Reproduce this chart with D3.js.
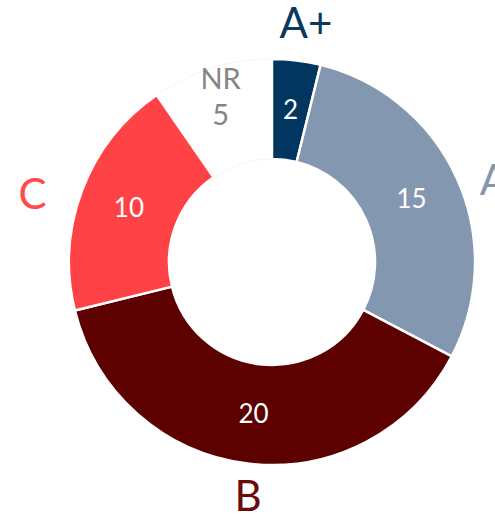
<!DOCTYPE html>
<html>
<head>
<meta charset="utf-8">
<script src="https://cdn.jsdelivr.net/npm/d3@7"></script>
<style>
  body { margin: 0; background: #fff; }
  svg { display: block; font-family: Lato, "Open Sans", sans-serif; }
</style>
</head>
<body>
<svg id="chart" width="495" height="514"></svg>
<script>
// chart data
var grades = ["A+", "A", "B", "C", "NR"];
var counts = [2, 15, 20, 10, 5];
var fills = ["#00365f", "#8497b0", "#5c0000", "#ff4246", "#ffffff"];
var labelColors = ["#0b3860", "#8497b0", "#6a0a0a", "#ff4a4d", "#858585"];

var W = 495, H = 514;
var cx = 272, cy = 262;
var outerR = 203, innerR = 103;

// small hand nudges for the big outer labels
var nudge = { "A+": [5, 0], "A": [3, 17], "B": [5, -4], "C": [-15, 17] };

var svg = d3.select("#chart");
var g = svg.append("g").attr("transform", "translate(" + cx + "," + cy + ")");

var pie = d3.pie().sort(null).value(function(d, i){ return counts[i]; });
var arcs = pie(grades);

var arc = d3.arc().innerRadius(innerR).outerRadius(outerR);
var labelArc = d3.arc().innerRadius(240).outerRadius(240);
var nrArc = d3.arc().innerRadius(173).outerRadius(173);

g.selectAll("path.slice")
  .data(arcs)
  .enter()
  .append("path")
  .attr("class", "slice")
  .attr("d", arc)
  .attr("fill", function(d, i){ return fills[i]; })
  .attr("stroke", function(d){ return d.data === "NR" ? "#f6f6f6" : "#fff"; })
  .attr("stroke-width", function(d){ return d.data === "NR" ? 1 : 2.5; });

// NR outline goes under the others so white separators stay on top
g.selectAll("path.slice").filter(function(d){ return d.data === "NR"; }).lower();

// values inside the ring
g.selectAll("text.val")
  .data(arcs.filter(function(d){ return d.data !== "NR"; }))
  .enter()
  .append("text")
  .attr("class", "val")
  .attr("transform", function(d){ return "translate(" + arc.centroid(d) + ")"; })
  .attr("text-anchor", "middle")
  .attr("dy", "0.35em")
  .attr("fill", "#fff")
  .style("font-size", "26px")
  .text(function(d){ return d.value; });

// big grade labels outside
g.selectAll("text.grade")
  .data(arcs.filter(function(d){ return d.data !== "NR"; }))
  .enter()
  .append("text")
  .attr("class", "grade")
  .attr("transform", function(d){
    var c = labelArc.centroid(d), n = nudge[d.data];
    return "translate(" + (c[0] + n[0]) + "," + (c[1] + n[1]) + ")";
  })
  .attr("text-anchor", "middle")
  .attr("dy", "0.35em")
  .attr("fill", function(d){ return labelColors[d.index]; })
  .style("font-size", "42px")
  .text(function(d){ return d.data; });

// NR label, two lines
var nr = arcs[grades.indexOf("NR")];
var nc = nrArc.centroid(nr);
var nrText = g.append("text")
  .attr("text-anchor", "middle")
  .attr("fill", labelColors[4])
  .style("font-size", "29px");
nrText.append("tspan").attr("x", nc[0]).attr("y", nc[1] - 18).attr("dy", "0.35em").text("NR");
nrText.append("tspan").attr("x", nc[0]).attr("y", nc[1] + 18).attr("dy", "0.35em").text(nr.value);
</script>
</body>
</html>
